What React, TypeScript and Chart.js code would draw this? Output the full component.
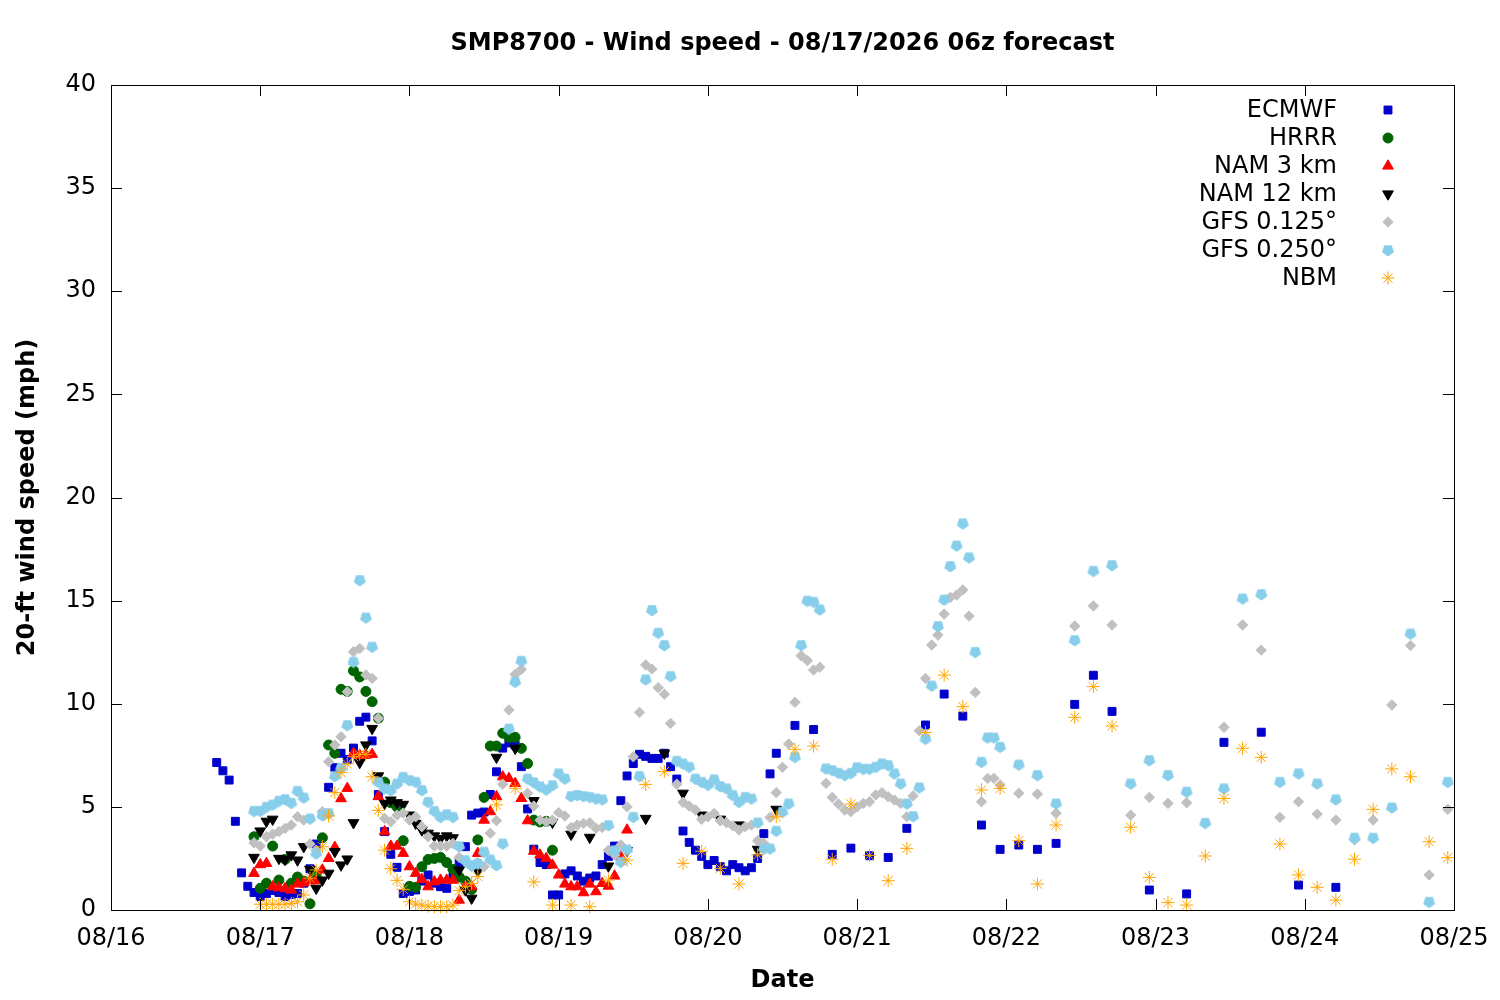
import React, { useEffect, useRef } from "react";
import { Chart, registerables } from "chart.js";
import { drawPoint } from "chart.js/helpers";

Chart.register(...registerables);

// ---- data: [hour since 08/16 00:00, wind speed mph] ----
const TITLE = "SMP8700 - Wind speed - 08/17/2026 06z forecast";
const X_TITLE = "Date";
const Y_TITLE = "20-ft wind speed (mph)";
const DATE_LABELS = ["08/16", "08/17", "08/18", "08/19", "08/20", "08/21", "08/22", "08/23", "08/24", "08/25"];
const Y_TICKS = [0, 5, 10, 15, 20, 25, 30, 35, 40];

const ECMWF: [number, number][] = [
  [17, 7.15], [18, 6.75], [19, 6.3], [20, 4.3], [21, 1.8], [22, 1.15], [23, 0.85], [24, 0.65], [25, 0.8], [26, 0.95],
  [27, 0.85], [28, 0.65], [29, 0.75], [30, 0.8], [31, 1.3], [32, 2.0], [33, 3.2], [34, 4.65], [35, 5.95], [36, 6.9],
  [37, 7.6], [38, 7.3], [39, 7.85], [40, 9.15], [41, 9.35], [42, 8.2], [43, 5.6], [44, 3.8], [45, 2.7], [46, 2.07],
  [47, 0.8], [48, 0.9], [49, 0.97], [50, 1.4], [51, 1.7], [52, 1.3], [53, 1.13], [54, 1.05], [55, 1.6], [56, 2.3],
  [57, 3.07], [58, 4.6], [59, 4.7], [60, 4.75], [61, 5.6], [62, 6.7], [63, 7.85], [64, 8.1], [65, 8.0], [66, 6.95],
  [67, 4.9], [68, 2.95], [69, 2.3], [70, 2.2], [71, 0.73], [72, 0.73], [73, 1.75], [74, 1.9], [75, 1.65], [76, 1.4],
  [77, 1.55], [78, 1.65], [79, 2.2], [80, 2.6], [81, 3.1], [82, 5.3], [83, 6.5], [84, 7.1], [85, 7.55], [86, 7.45],
  [87, 7.35], [88, 7.35], [89, 7.6], [90, 6.95], [91, 6.35], [92, 3.83], [93, 3.28], [94, 2.9], [95, 2.6], [96, 2.2],
  [97, 2.4], [98, 2.1], [99, 1.9], [100, 2.2], [101, 2.05], [102, 1.9], [103, 2.05], [104, 2.5], [105, 3.7], [106, 6.6],
  [107, 7.6], [110, 8.95], [113, 8.75], [116, 2.7], [119, 3.0], [122, 2.63], [125, 2.55], [128, 3.96], [131, 8.97],
  [134, 10.47], [137, 9.4], [140, 4.12], [143, 2.94], [146, 3.15], [149, 2.94], [152, 3.23], [155, 9.97], [158, 11.38],
  [161, 9.63], [167, 0.97], [173, 0.78], [179, 8.13], [185, 8.62], [191, 1.21], [197, 1.1],
];

const HRRR: [number, number][] = [
  [23, 3.55], [24, 1.05], [25, 1.3], [26, 3.1], [27, 1.45], [28, 2.45], [29, 1.3], [30, 1.6], [31, 1.4], [32, 0.3],
  [33, 1.7], [34, 3.5], [35, 8.0], [36, 7.6], [37, 10.7], [38, 10.6], [39, 11.6], [40, 11.3], [41, 10.6], [42, 10.1],
  [43, 9.3], [44, 6.2], [45, 5.2], [46, 5.0], [47, 3.36], [48, 1.15], [49, 1.1], [50, 2.1], [51, 2.45], [52, 2.5],
  [53, 2.55], [54, 2.3], [55, 1.97], [56, 1.6], [57, 1.4], [58, 1.0], [59, 3.4], [60, 5.46], [61, 7.95], [62, 7.95],
  [63, 8.57], [64, 8.37], [65, 8.37], [66, 7.84], [67, 7.1], [68, 4.36], [69, 4.27], [70, 4.3], [71, 2.9],
];

const NAM3: [number, number][] = [
  [23, 1.78], [24, 2.2], [25, 2.26], [26, 1.13], [27, 1.08], [28, 1.05], [29, 0.97], [30, 1.26], [31, 1.32], [32, 1.42],
  [33, 1.42], [34, 1.94], [35, 2.5], [36, 3.04], [37, 5.4], [38, 5.9], [39, 7.6], [40, 7.5], [41, 7.5], [42, 7.55],
  [43, 5.5], [44, 3.8], [45, 3.1], [46, 3.1], [47, 2.75], [48, 2.1], [49, 1.78], [50, 1.48], [51, 1.13], [52, 1.37],
  [53, 1.45], [54, 1.45], [55, 1.45], [56, 0.48], [57, 1.13], [58, 1.13], [59, 2.75], [60, 4.36], [61, 4.77], [62, 5.5],
  [63, 6.46], [64, 6.38], [65, 6.14], [66, 5.41], [67, 4.33], [68, 2.85], [69, 2.67], [70, 2.5], [71, 2.18], [72, 1.7],
  [73, 1.26], [74, 1.13], [75, 1.13], [76, 0.84], [77, 1.26], [78, 0.89], [79, 1.29], [80, 1.16], [81, 1.65], [82, 2.58],
  [83, 3.88],
];

const NAM12: [number, number][] = [
  [23, 2.55], [24, 3.83], [25, 4.3], [26, 4.4], [27, 2.5], [28, 2.45], [29, 2.67], [30, 2.42], [31, 3.07], [32, 1.97],
  [33, 1.05], [34, 1.45], [35, 1.78], [36, 2.83], [37, 2.18], [38, 2.47], [39, 4.23], [40, 7.15], [41, 8.0], [42, 8.8],
  [43, 6.5], [44, 5.17], [45, 5.33], [46, 5.2], [47, 5.12], [48, 4.6], [49, 4.2], [50, 3.88], [51, 3.72], [52, 3.59],
  [53, 3.47], [54, 3.59], [55, 3.5], [56, 1.94], [57, 0.97], [58, 0.57], [59, 1.9], [62, 7.4], [65, 7.84], [68, 5.3],
  [71, 4.25], [74, 3.67], [77, 3.52], [80, 2.13], [83, 2.88], [86, 4.44], [89, 7.6], [92, 5.66], [95, 4.6], [98, 4.4],
  [101, 4.12], [104, 2.94], [107, 4.88],
];

const GFS0125: [number, number][] = [
  [23, 3.26], [24, 3.1], [25, 3.55], [26, 3.68], [27, 3.8], [28, 3.96], [29, 4.12], [30, 4.52], [31, 4.36], [32, 3.2],
  [33, 2.9], [34, 4.77], [35, 7.19], [36, 8.0], [37, 8.4], [38, 10.58], [39, 12.52], [40, 12.68], [41, 11.4], [42, 11.23],
  [43, 9.3], [44, 4.44], [45, 4.28], [46, 4.6], [47, 4.7], [48, 4.36], [49, 4.52], [50, 4.04], [51, 3.55], [52, 3.1],
  [53, 3.1], [54, 3.1], [55, 3.23], [56, 2.55], [57, 2.34], [58, 2.1], [59, 2.3], [60, 2.1], [61, 3.72], [62, 4.33],
  [63, 6.1], [64, 9.7], [65, 11.42], [66, 11.67], [67, 5.66], [68, 5.04], [69, 4.36], [70, 4.28], [71, 4.36], [72, 4.72],
  [73, 4.56], [74, 4.0], [75, 4.12], [76, 4.2], [77, 4.23], [78, 3.96], [79, 4.0], [80, 2.9], [81, 2.67], [82, 3.15],
  [83, 5.0], [84, 7.43], [85, 9.58], [86, 11.88], [87, 11.68], [88, 10.78], [89, 10.46], [90, 9.05], [91, 6.1], [92, 5.22],
  [93, 5.04], [94, 4.85], [95, 4.4], [96, 4.52], [97, 4.68], [98, 4.33], [99, 4.23], [100, 4.08], [101, 3.88], [102, 4.04],
  [103, 4.12], [104, 3.36], [105, 3.23], [106, 4.49], [107, 5.69], [108, 6.92], [109, 8.05], [110, 10.07], [111, 12.33],
  [112, 12.09], [113, 11.64], [114, 11.77], [115, 6.14], [116, 5.46], [117, 5.14], [118, 4.85], [119, 4.77], [120, 5.0],
  [121, 5.17], [122, 5.25], [123, 5.58], [124, 5.69], [125, 5.49], [126, 5.33], [127, 5.17], [128, 4.52], [129, 5.53],
  [130, 8.69], [131, 11.23], [132, 12.85], [133, 13.33], [134, 14.35], [135, 15.16], [136, 15.27], [137, 15.52],
  [138, 14.25], [139, 10.55], [140, 5.25], [141, 6.38], [142, 6.38], [143, 6.06], [146, 5.66], [149, 5.62], [152, 4.69],
  [155, 13.77], [158, 14.74], [161, 13.82], [164, 4.6], [167, 5.46], [170, 5.17], [173, 5.2], [176, 4.2], [179, 8.86],
  [182, 13.82], [185, 12.6], [188, 4.49], [191, 5.25], [194, 4.65], [197, 4.36], [200, 3.4], [203, 4.36], [206, 9.94],
  [209, 12.82], [212, 1.7], [215, 4.88],
];

const GFS0250: [number, number][] = [
  [23, 4.81], [24, 4.81], [25, 5.01], [26, 5.12], [27, 5.3], [28, 5.38], [29, 5.2], [30, 5.78], [31, 5.46], [32, 4.44],
  [33, 2.75], [34, 4.6], [35, 4.7], [36, 6.5], [37, 6.9], [38, 8.97], [39, 12.04], [40, 16.0], [41, 14.19], [42, 12.77],
  [43, 6.22], [44, 5.9], [45, 5.82], [46, 6.14], [47, 6.46], [48, 6.3], [49, 6.22], [50, 5.82], [51, 5.25], [52, 4.81],
  [53, 4.52], [54, 4.65], [55, 4.52], [56, 3.1], [57, 2.42], [58, 2.18], [59, 2.26], [60, 2.83], [61, 2.46], [62, 2.18],
  [63, 3.23], [64, 8.8], [65, 11.07], [66, 12.09], [67, 6.38], [68, 6.2], [69, 6.0], [70, 5.85], [71, 6.06], [72, 6.63],
  [73, 6.38], [74, 5.53], [75, 5.58], [76, 5.53], [77, 5.49], [78, 5.41], [79, 5.37], [80, 4.12], [81, 2.9], [82, 2.34],
  [83, 2.94], [84, 4.52], [85, 6.5], [86, 11.19], [87, 14.55], [88, 13.45], [89, 12.85], [90, 11.35], [91, 7.24],
  [92, 7.11], [93, 6.95], [94, 6.38], [95, 6.22], [96, 6.08], [97, 6.34], [98, 6.01], [99, 5.9], [100, 5.58], [101, 5.25],
  [102, 5.49], [103, 5.41], [104, 4.25], [105, 2.99], [106, 2.99], [107, 3.85], [108, 4.77], [109, 5.17], [110, 7.43],
  [111, 12.85], [112, 15.0], [113, 14.95], [114, 14.58], [115, 6.87], [116, 6.79], [117, 6.66], [118, 6.55], [119, 6.65],
  [120, 6.93], [121, 6.85], [122, 6.85], [123, 6.95], [124, 7.11], [125, 7.03], [126, 6.63], [127, 6.14], [128, 5.17],
  [129, 4.56], [130, 5.95], [131, 8.31], [132, 10.89], [133, 13.77], [134, 15.06], [135, 16.68], [136, 17.68],
  [137, 18.75], [138, 17.1], [139, 12.52], [140, 7.19], [141, 8.37], [142, 8.37], [143, 7.92], [146, 7.06], [149, 6.55],
  [152, 5.17], [155, 13.09], [158, 16.45], [161, 16.73], [164, 6.14], [167, 7.27], [170, 6.55], [173, 5.74], [176, 4.23],
  [179, 5.9], [182, 15.11], [185, 15.32], [188, 6.22], [191, 6.63], [194, 6.14], [197, 5.37], [200, 3.51], [203, 3.51],
  [206, 4.98], [209, 13.41], [212, 0.4], [215, 6.22],
];

const NBM: [number, number][] = [
  [24, 0.28], [25, 0.28], [26, 0.28], [27, 0.28], [28, 0.28], [29, 0.32], [30, 0.4], [31, 0.73], [32, 1.54], [33, 1.94],
  [34, 3.07], [35, 4.56], [36, 5.7], [37, 6.67], [38, 7.08], [39, 7.43], [40, 7.55], [41, 7.55], [42, 6.46], [43, 4.83],
  [44, 2.9], [45, 2.0], [46, 1.44], [47, 1.0], [48, 0.4], [49, 0.29], [50, 0.24], [51, 0.19], [52, 0.16], [53, 0.16],
  [54, 0.16], [55, 0.24], [56, 0.94], [57, 1.13], [58, 1.29], [59, 1.62], [62, 5.1], [65, 5.9], [68, 1.36], [71, 0.24],
  [74, 0.24], [77, 0.16], [80, 1.45], [83, 2.42], [86, 6.09], [89, 6.71], [92, 2.26], [95, 2.85], [98, 2.02], [101, 1.26],
  [104, 2.67], [107, 4.52], [110, 7.79], [113, 7.95], [116, 2.46], [119, 5.14], [122, 2.65], [125, 1.42], [128, 2.99],
  [131, 8.61], [134, 11.39], [137, 9.86], [140, 5.82], [143, 5.9], [146, 3.36], [149, 1.26], [152, 4.12], [155, 9.34],
  [158, 10.83], [161, 8.92], [164, 4.01], [167, 1.58], [170, 0.36], [173, 0.24], [176, 2.62], [179, 5.41], [182, 7.84],
  [185, 7.4], [188, 3.2], [191, 1.7], [194, 1.1], [197, 0.48], [200, 2.46], [203, 4.88], [206, 6.84], [209, 6.46],
  [212, 3.31], [215, 2.54],
];

const FONT = "'DejaVu Sans', 'Liberation Sans', sans-serif";
const FONT_SIZE = 24;

function makePentagon(color: string): HTMLCanvasElement {
  const c = document.createElement("canvas");
  c.width = 14;
  c.height = 14;
  const g = c.getContext("2d")!;
  g.fillStyle = color;
  g.beginPath();
  const r = 6.3;
  for (let i = 0; i < 5; i++) {
    const a = Math.PI / 2 + (i * 2 * Math.PI) / 5; // point down
    const px = 7 + r * Math.cos(a);
    const py = 7.3 + r * Math.sin(a);
    if (i === 0) g.moveTo(px, py);
    else g.lineTo(px, py);
  }
  g.closePath();
  g.fill();
  return c;
}

export default function App() {
  const ref = useRef<HTMLCanvasElement | null>(null);

  useEffect(() => {
    if (!ref.current) return;
    const pentagon = makePentagon("#87ceeb");
    const toXY = (arr: [number, number][]) => arr.map(([x, y]) => ({ x, y }));

    const series = [
      { label: "ECMWF", data: ECMWF, color: "#0000cc", style: "rect" as any, radius: 5.6, rotation: 0, order: 6 },
      { label: "HRRR", data: HRRR, color: "#006400", style: "circle" as any, radius: 5, rotation: 0, order: 5 },
      { label: "NAM 3 km", data: NAM3, color: "#ff0000", style: "triangle" as any, radius: 6.2, rotation: 0, order: 4 },
      { label: "NAM 12 km", data: NAM12, color: "#000000", style: "triangle" as any, radius: 6.2, rotation: 180, order: 3 },
      { label: "GFS 0.125°", data: GFS0125, color: "#c0c0c0", style: "rectRot" as any, radius: 5.2, rotation: 0, order: 2 },
      { label: "GFS 0.250°", data: GFS0250, color: "#87ceeb", style: pentagon as any, radius: 6, rotation: 0, order: 1 },
      { label: "NBM", data: NBM, color: "#ffa500", style: "star" as any, radius: 6.5, rotation: 0, order: 0 },
    ];

    const frame = {
      id: "gnuFrame",
      afterDatasetsDraw(chart: any) {
        const { ctx, chartArea: a, scales } = chart;
        const xs = scales.x;
        const ys = scales.y;
        ctx.save();
        ctx.strokeStyle = "#000";
        ctx.lineWidth = 1;
        ctx.strokeRect(Math.round(a.left) + 0.5, Math.round(a.top) + 0.5, Math.round(a.right - a.left), Math.round(a.bottom - a.top));
        const tl = 11;
        ctx.beginPath();
        for (let i = 0; i < DATE_LABELS.length; i++) {
          const px = Math.round(xs.getPixelForValue(i * 24)) + 0.5;
          ctx.moveTo(px, a.bottom);
          ctx.lineTo(px, a.bottom - tl);
          ctx.moveTo(px, a.top);
          ctx.lineTo(px, a.top + tl);
        }
        for (const v of Y_TICKS) {
          const py = Math.round(ys.getPixelForValue(v)) + 0.5;
          ctx.moveTo(a.left, py);
          ctx.lineTo(a.left + tl, py);
          ctx.moveTo(a.right, py);
          ctx.lineTo(a.right - tl, py);
        }
        ctx.stroke();

        // titles
        ctx.fillStyle = "#000";
        ctx.textAlign = "center";
        ctx.textBaseline = "middle";
        ctx.font = `bold ${FONT_SIZE}px ${FONT}`;
        const cx = (a.left + a.right) / 2;
        ctx.fillText(TITLE, cx, 44);
        ctx.fillText(X_TITLE, cx, 981);
        ctx.save();
        ctx.translate(28, (a.top + a.bottom) / 2);
        ctx.rotate(-Math.PI / 2);
        ctx.fillText(Y_TITLE, 0, 0);
        ctx.restore();

        // legend
        ctx.font = `${FONT_SIZE}px ${FONT}`;
        ctx.textAlign = "right";
        series.forEach((s, i) => {
          const y = 110 + i * 28;
          ctx.fillStyle = "#000";
          ctx.fillText(s.label, 1337, y + 1);
          ctx.fillStyle = s.color;
          ctx.strokeStyle = s.color;
          ctx.lineWidth = 1;
          drawPoint(ctx, { pointStyle: s.style, rotation: s.rotation, radius: s.radius, borderWidth: 1 } as any, 1388, y);
        });
        ctx.restore();
      },
    };

    const chart = new Chart(ref.current, {
      type: "scatter",
      data: {
        datasets: series.map((s) => ({
          label: s.label,
          data: toXY(s.data),
          backgroundColor: s.color,
          borderColor: s.color,
          borderWidth: 1,
          pointStyle: s.style,
          pointRadius: s.radius,
          pointRotation: s.rotation,
          order: s.order,
          clip: false as any,
        })),
      },
      options: {
        animation: false,
        responsive: false,
        devicePixelRatio: 1,
        layout: { autoPadding: false, padding: { left: 0, right: 46, top: 85, bottom: 0 } },
        plugins: { legend: { display: false }, tooltip: { enabled: false }, title: { display: false } },
        events: [],
        scales: {
          x: {
            type: "linear",
            min: 0,
            max: 216,
            grid: { display: false, drawTicks: false },
            border: { display: false },
            afterFit: (scale: any) => {
              scale.height = 90;
              scale.paddingLeft = 0;
              scale.paddingRight = 0;
            },
            ticks: {
              stepSize: 24,
              autoSkip: false,
              maxRotation: 0,
              padding: 14,
              color: "#000",
              font: { family: FONT, size: FONT_SIZE },
              callback: (v: any) => DATE_LABELS[Math.round(Number(v) / 24)] ?? "",
            },
          },
          y: {
            type: "linear",
            min: 0,
            max: 40,
            grid: { display: false, drawTicks: false },
            border: { display: false },
            afterFit: (scale: any) => {
              scale.width = 111;
              scale.paddingTop = 0;
              scale.paddingBottom = 0;
            },
            ticks: {
              stepSize: 5,
              padding: 15,
              color: "#000",
              font: { family: FONT, size: FONT_SIZE },
            },
          },
        },
      },
      plugins: [frame],
    });
    return () => chart.destroy();
  }, []);

  return (
    <div style={{ position: "absolute", left: 0, top: 0, width: 1500, height: 1000, background: "#fff" }}>
      <canvas ref={ref} width={1500} height={1000} style={{ width: 1500, height: 1000 }} />
    </div>
  );
}
